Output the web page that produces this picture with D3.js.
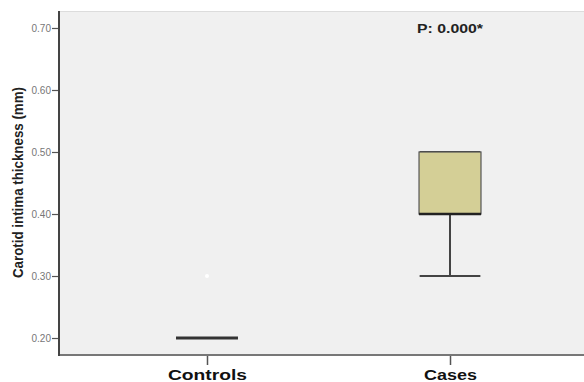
<!DOCTYPE html>
<html>
<head>
<meta charset="utf-8">
<script src="https://cdn.jsdelivr.net/npm/d3@7/dist/d3.min.js"></script>
<style>
  html, body { margin: 0; padding: 0; background: #fff; }
  svg { display: block; font-family: Arial, "Liberation Sans", sans-serif; }
</style>
</head>
<body>
<svg id="chart" width="584" height="382"></svg>
<script>
const categories = ["Controls", "Cases"];
const whiskerLow = [0.20, 0.30];
const q1 = [0.20, 0.40];
const median = [0.20, 0.40];
const q3 = [0.20, 0.50];
const whiskerHigh = [0.20, 0.50];
const outliers = [[0.30], []];
const yTicks = [0.20, 0.30, 0.40, 0.50, 0.60, 0.70];
const yLabel = "Carotid intima thickness (mm)";
const pText = "P: 0.000*";

const svg = d3.select("#chart");
const plot = { left: 59, right: 584, top: 11, bottom: 355 };

const y = d3.scaleLinear().domain([0.1726, 0.7274]).range([plot.bottom, plot.top]);
const x = d3.scalePoint().domain(categories).range([plot.left, 598]).padding(0.609);
const boxW = x.step() * 0.255;
const capW = x.step() * 0.125;

// plot background
svg.append("rect")
  .attr("x", plot.left).attr("y", plot.top)
  .attr("width", plot.right - plot.left).attr("height", plot.bottom - plot.top)
  .attr("fill", "#f0f0f0");
svg.append("line")
  .attr("x1", plot.left).attr("x2", plot.right)
  .attr("y1", plot.top + 0.5).attr("y2", plot.top + 0.5)
  .attr("stroke", "#dcdcdc").attr("stroke-width", 1);

// y axis
const yAxis = d3.axisLeft(y).tickValues(yTicks).tickFormat(d3.format(".2f")).tickSize(7).tickPadding(1);
const gy = svg.append("g").attr("transform", `translate(${plot.left},0)`).call(yAxis);
gy.select(".domain").remove();
gy.selectAll(".tick line").attr("stroke", "#555").attr("stroke-width", 1.2);
gy.selectAll(".tick text").attr("fill", "#777").attr("font-size", 10).attr("font-family", "Arial, 'Liberation Sans', sans-serif");

// x axis
const xAxis = d3.axisBottom(x).tickSize(10).tickPadding(6);
const gx = svg.append("g").attr("transform", `translate(0,${plot.bottom})`).call(xAxis);
gx.select(".domain").remove();
gx.selectAll(".tick line").attr("stroke", "#555").attr("stroke-width", 1.5);
gx.selectAll(".tick text")
  .attr("fill", "#111").attr("font-size", 15).attr("font-weight", "bold")
  .attr("font-family", "Arial, 'Liberation Sans', sans-serif")
  .attr("y", 25).attr("dy", "0")
  .attr("textLength", d => d === "Controls" ? 79 : 53)
  .attr("lengthAdjust", "spacingAndGlyphs");

// axis lines
svg.append("line")
  .attr("x1", plot.left).attr("x2", plot.right)
  .attr("y1", plot.bottom).attr("y2", plot.bottom)
  .attr("stroke", "#777").attr("stroke-width", 2);
svg.append("line")
  .attr("x1", plot.left).attr("x2", plot.left)
  .attr("y1", plot.top).attr("y2", plot.bottom + 1)
  .attr("stroke", "#444").attr("stroke-width", 2);

// boxes
categories.forEach((c, i) => {
  const cx = x(c);
  const g = svg.append("g");
  if (q3[i] > q1[i]) {
    g.append("line").attr("x1", cx).attr("x2", cx)
      .attr("y1", y(whiskerLow[i])).attr("y2", y(q1[i]))
      .attr("stroke", "#444").attr("stroke-width", 2);
    g.append("line").attr("x1", cx).attr("x2", cx)
      .attr("y1", y(whiskerHigh[i])).attr("y2", y(q3[i]))
      .attr("stroke", "#444").attr("stroke-width", 2);
    g.append("line").attr("x1", cx - capW).attr("x2", cx + capW)
      .attr("y1", y(whiskerLow[i])).attr("y2", y(whiskerLow[i]))
      .attr("stroke", "#444").attr("stroke-width", 2);
    g.append("line").attr("x1", cx - capW).attr("x2", cx + capW)
      .attr("y1", y(whiskerHigh[i])).attr("y2", y(whiskerHigh[i]))
      .attr("stroke", "#444").attr("stroke-width", 2);
    g.append("rect")
      .attr("x", cx - boxW / 2).attr("y", y(q3[i]))
      .attr("width", boxW).attr("height", y(q1[i]) - y(q3[i]))
      .attr("fill", "#d4cf96").attr("stroke", "#555").attr("stroke-width", 1.2);
    g.append("line").attr("x1", cx - boxW / 2).attr("x2", cx + boxW / 2)
      .attr("y1", y(median[i])).attr("y2", y(median[i]))
      .attr("stroke", "#222").attr("stroke-width", 2.5);
  } else {
    g.append("line").attr("x1", cx - boxW / 2).attr("x2", cx + boxW / 2)
      .attr("y1", y(median[i])).attr("y2", y(median[i]))
      .attr("stroke", "#333").attr("stroke-width", 3);
  }
  outliers[i].forEach(v => {
    g.append("circle").attr("cx", cx).attr("cy", y(v)).attr("r", 2)
      .attr("fill", "#ffffff");
  });
});

// y label
svg.append("text")
  .attr("transform", `translate(23,${(87 + 278) / 2}) rotate(-90)`)
  .attr("text-anchor", "middle")
  .attr("font-size", 14.5).attr("font-weight", "bold").attr("fill", "#222")
  .attr("textLength", 191).attr("lengthAdjust", "spacingAndGlyphs")
  .text(yLabel);

// p value annotation
svg.append("text")
  .attr("x", x("Cases")).attr("y", 33)
  .attr("text-anchor", "middle")
  .attr("font-size", 12).attr("font-weight", "bold").attr("fill", "#222")
  .attr("textLength", 66).attr("lengthAdjust", "spacingAndGlyphs")
  .text(pText);
</script>
</body>
</html>
